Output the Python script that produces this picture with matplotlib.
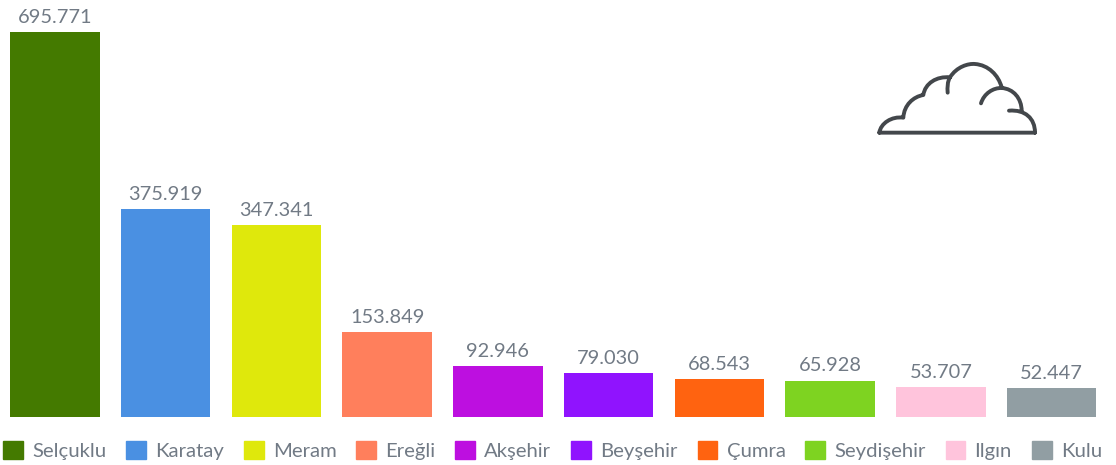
import matplotlib
matplotlib.use("Agg")
import matplotlib.pyplot as plt
from matplotlib.patches import Patch, PathPatch
from matplotlib.path import Path
from matplotlib.transforms import Affine2D

districts = ["Selçuklu", "Karatay", "Meram", "Ereğli", "Akşehir",
             "Beyşehir", "Çumra", "Seydişehir", "Ilgın", "Kulu"]
population = [695771, 375919, 347341, 153849, 92946,
              79030, 68543, 65928, 53707, 52447]
colors = ["#447a00", "#4a90e2", "#dfe80c", "#ff7f5c", "#bd0fe0",
          "#9013fe", "#ff6310", "#7ed321", "#ffc4dc", "#919ea3"]

W, H = 1116, 465
TEXT = "#717a85"

plt.rcParams["font.family"] = ["Lato", "DejaVu Sans"]

fig = plt.figure(figsize=(W / 100, H / 100), dpi=100, facecolor="white")
ax = fig.add_axes([-0.5 / W, 48 / H, 1107.5 / W, 415 / H])

x = range(len(districts))
ax.bar(x, population, width=0.81, color=colors)
ax.set_xlim(-0.5, 9.5)
ax.set_ylim(0, 750000)
ax.axis("off")

# turkish thousand separator
for i, v in zip(x, population):
    ax.annotate(f"{v:,}".replace(",", "."), (i, v), xytext=(0, 6.5),
                textcoords="offset points", ha="center", va="baseline",
                fontsize=14.4, color=TEXT)

handles = [Patch(color=c, label=d) for c, d in zip(colors, districts)]
fig.legend(handles=handles, loc="lower left", bbox_to_anchor=(0, 2 / H),
           ncol=10, frameon=False, fontsize=14.6, labelcolor=TEXT,
           handlelength=0.98, handleheight=0.92, handletextpad=0.45,
           columnspacing=0.98, borderpad=0.15, borderaxespad=0.0)

# cloud icon, traced in a 3x crop of the picture
M, L, C = Path.MOVETO, Path.LINETO, Path.CURVE4
cloud = [
    (M, (58, 248)), (L, (525, 248)),
    (M, (58, 248)), (C, (62, 220)), (C, (95, 198)), (C, (130, 203)),
    (C, (132, 165)), (C, (160, 140)), (C, (190, 135)),
    (C, (195, 100)), (C, (230, 78)), (C, (270, 82)),
    (C, (290, 50)), (C, (325, 40)), (C, (345, 42)),
    (C, (385, 45)), (C, (415, 75)), (C, (425, 112)),
    (M, (270, 82)), (C, (262, 95)), (C, (262, 112)), (C, (263, 128)),
    (M, (363, 160)), (C, (372, 130)), (C, (400, 113)), (C, (425, 114)),
    (C, (460, 116)), (C, (485, 145)), (C, (485, 183)),
    (M, (447, 182)), (C, (495, 178)), (C, (525, 205)), (C, (525, 248)),
]
codes = [c for c, _ in cloud]
verts = [p for _, p in cloud]
to_px = Affine2D().scale(1 / 3, -1 / 3).translate(860, H - 50)
fig.add_artist(PathPatch(Path(verts, codes), fill=False, edgecolor="#43474b",
                         linewidth=2.8, capstyle="round", joinstyle="round",
                         transform=to_px))

fig.savefig("out.png", dpi=100, facecolor="white")
